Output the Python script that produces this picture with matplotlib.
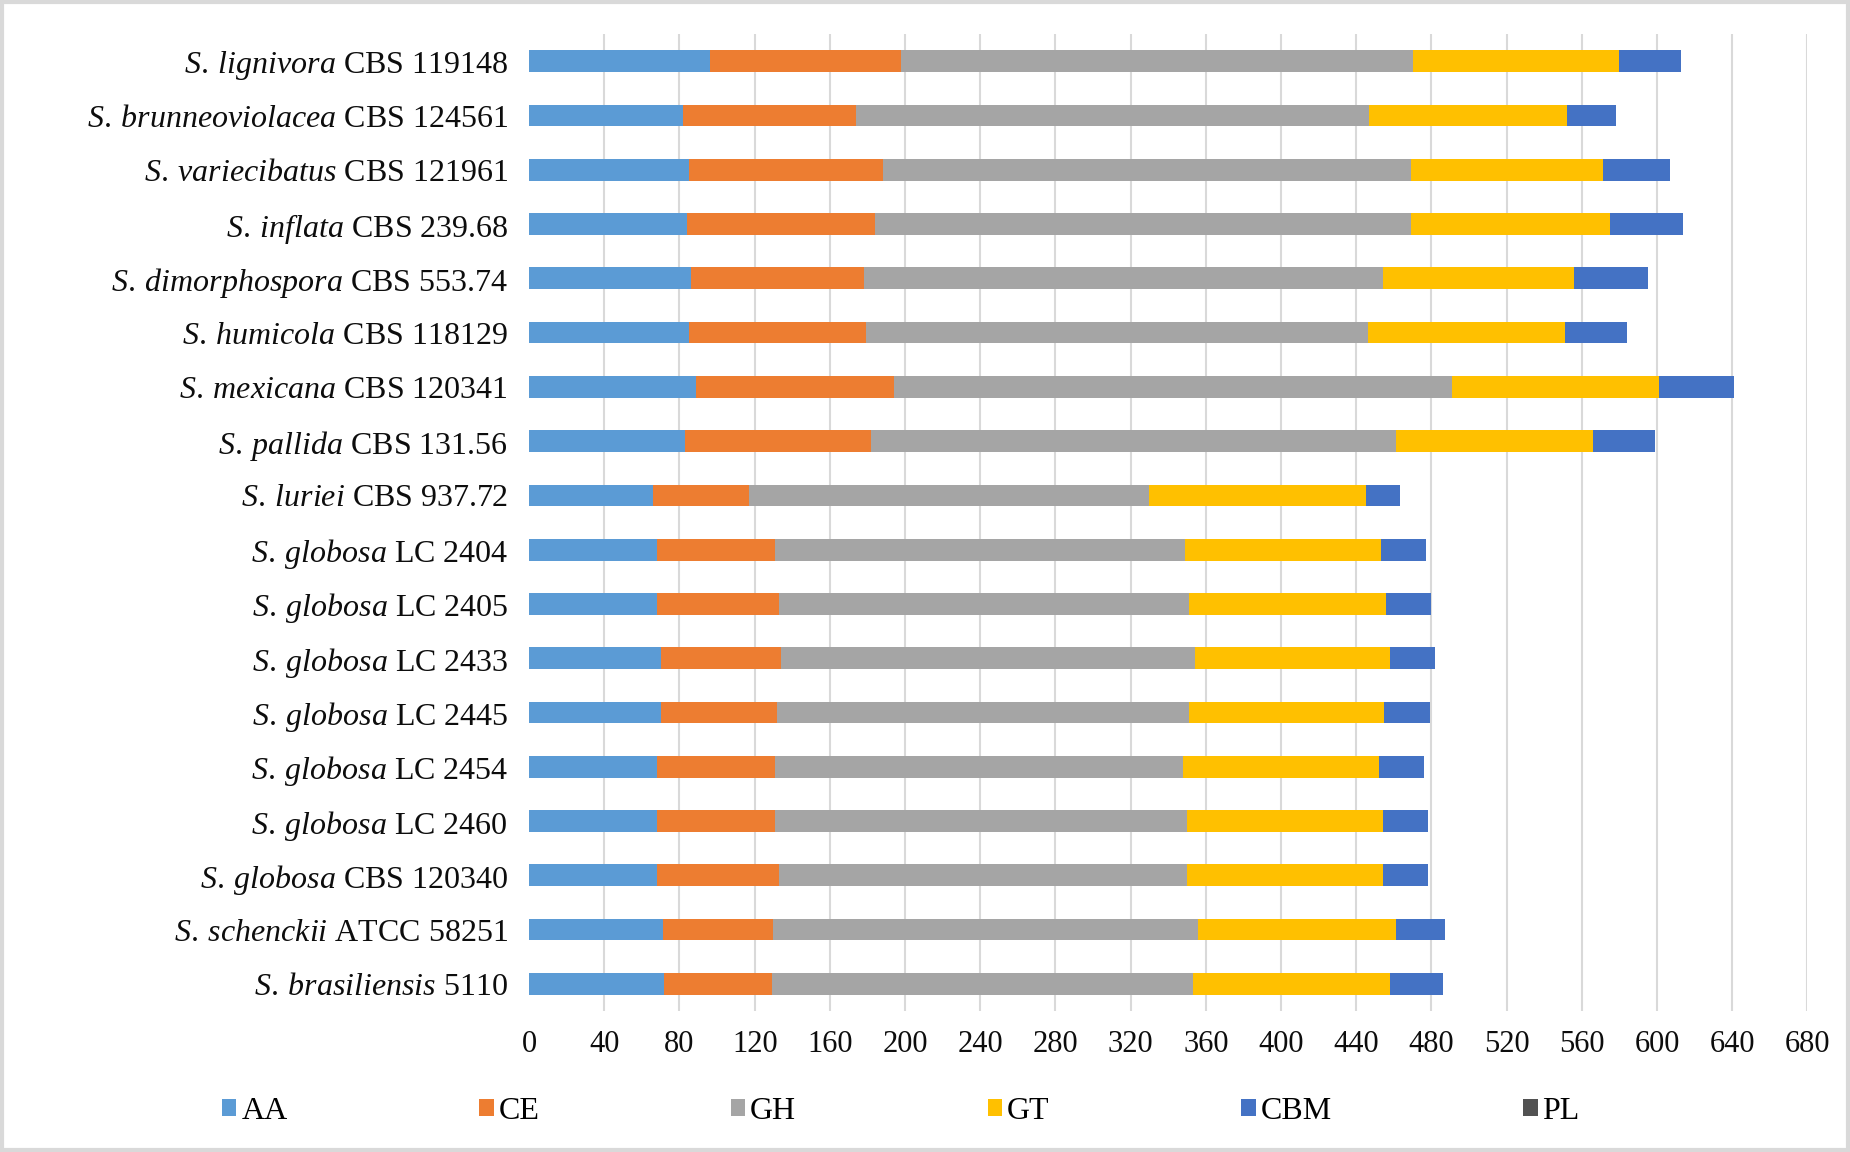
import numpy as np
import matplotlib
matplotlib.use("Agg")
import matplotlib.pyplot as plt
from matplotlib.patches import Patch, Rectangle

plt.rcParams['font.family'] = ['Liberation Serif', 'DejaVu Serif']
plt.rcParams['mathtext.fontset'] = 'custom'
plt.rcParams['mathtext.rm'] = 'Liberation Serif'
plt.rcParams['mathtext.it'] = 'Liberation Serif:italic'

# strains, top to bottom
species = ["S. lignivora", "S. brunneoviolacea", "S. variecibatus", "S. inflata",
           "S. dimorphospora", "S. humicola", "S. mexicana", "S. pallida", "S. luriei",
           "S. globosa", "S. globosa", "S. globosa", "S. globosa", "S. globosa",
           "S. globosa", "S. globosa", "S. schenckii", "S. brasiliensis"]
strains = ["CBS 119148", "CBS 124561", "CBS 121961", "CBS 239.68", "CBS 553.74",
           "CBS 118129", "CBS 120341", "CBS 131.56", "CBS 937.72", "LC 2404",
           "LC 2405", "LC 2433", "LC 2445", "LC 2454", "LC 2460", "CBS 120340",
           "ATCC 58251", "5110"]

# CAZyme family counts
aa = [96, 82, 85, 84, 86, 85, 89, 83, 66, 68, 68, 70, 70, 68, 68, 68, 71, 72]
ce = [102, 92, 103, 100, 92, 94, 105, 99, 51, 63, 65, 64, 62, 63, 63, 65, 59, 57]
gh = [272, 273, 281, 285, 276, 267, 297, 279, 213, 218, 218, 220, 219, 217, 219, 217, 226, 224]
gt = [110, 105, 102, 106, 102, 105, 110, 105, 115, 104, 105, 104, 104, 104, 104, 104, 105, 105]
cbm = [33, 26, 36, 39, 39, 33, 40, 33, 18, 24, 24, 24, 24, 24, 24, 24, 26, 28]
pl = [0] * 18

families = ["AA", "CE", "GH", "GT", "CBM", "PL"]
colors = ["#5B9BD5", "#ED7D31", "#A5A5A5", "#FFC000", "#4472C4", "#525252"]
series = [aa, ce, gh, gt, cbm, pl]

fig = plt.figure(figsize=(18.5, 11.52), dpi=100)
ax = fig.add_axes([0.286, 0.1224, 0.691, 0.848])

y = np.arange(len(species))
left = np.zeros(len(species))
for vals, c, name in zip(series, colors, families):
    vals = np.array(vals, dtype=float)
    ax.barh(y, vals, left=left, height=0.4, color=c, label=name, zorder=3)
    left += vals

# italic genus/species, upright strain id
labels = []
for sp, st in zip(species, strains):
    sp_tex = sp.replace(" ", r"\:")
    labels.append(r"$\mathit{" + sp_tex + "}$ " + st)
ax.set_yticks(y)
ax.set_yticklabels(labels, fontsize=23, color="#0d0d0d")
ax.set_ylim(len(species) - 0.5, -0.5)

ax.set_xlim(0, 680)
ax.set_xticks(np.arange(0, 681, 40))
ax.tick_params(axis="x", labelsize=22, colors="#0d0d0d", length=0, pad=14)
ax.tick_params(axis="y", length=0, pad=15)
ax.grid(axis="x", color="#d9d9d9", linewidth=1.5, zorder=0)
ax.xaxis.get_gridlines()[0].set_visible(False)
for s in ax.spines.values():
    s.set_visible(False)

handles = [Patch(facecolor=c, label=n) for c, n in zip(colors, families)]
fig.legend(handles=handles, loc="center", bbox_to_anchor=(0.487, 0.035), ncol=6,
           frameon=False, fontsize=23, handlelength=0.45, handleheight=0.45,
           handletextpad=0.15, columnspacing=6.0)

fig.patches.append(Rectangle((0.001, 0.002), 0.998, 0.996, transform=fig.transFigure,
                             fill=False, edgecolor="#d9d9d9", linewidth=3))

fig.savefig("out.png", dpi=100)
